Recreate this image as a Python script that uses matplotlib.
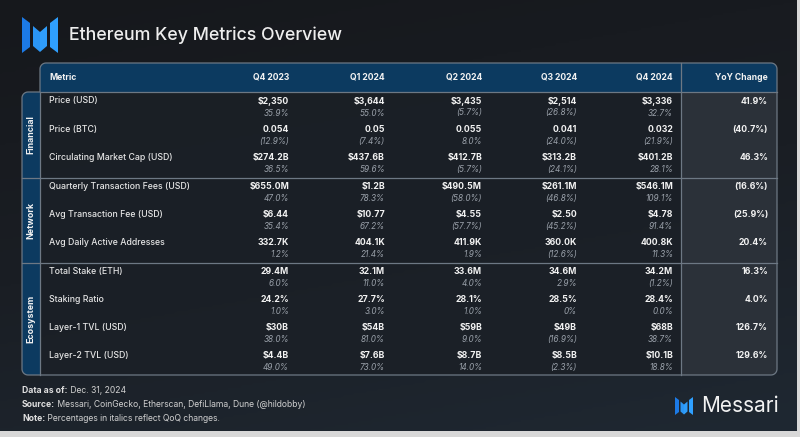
import matplotlib.pyplot as plt
import numpy as np
from matplotlib.patches import Polygon
from matplotlib.colors import LinearSegmentedColormap

plt.rcParams['font.family'] = ['Inter', 'DejaVu Sans']

quarters = ['Q4 2023', 'Q1 2024', 'Q2 2024', 'Q3 2024', 'Q4 2024']
groups = ['Financial', 'Network', 'Ecosystem']
group_sizes = [3, 3, 4]
metrics = ['Price (USD)', 'Price (BTC)', 'Circulating Market Cap (USD)',
           'Quarterly Transaction Fees (USD)', 'Avg Transaction Fee (USD)', 'Avg Daily Active Addresses',
           'Total Stake (ETH)', 'Staking Ratio', 'Layer-1 TVL (USD)', 'Layer-2 TVL (USD)']
values = [
    ['$2,350', '$3,644', '$3,435', '$2,514', '$3,336'],
    ['0.054', '0.05', '0.055', '0.041', '0.032'],
    ['$274.2B', '$437.6B', '$412.7B', '$313.2B', '$401.2B'],
    ['$655.0M', '$1.2B', '$490.5M', '$261.1M', '$546.1M'],
    ['$6.44', '$10.77', '$4.55', '$2.50', '$4.78'],
    ['332.7K', '404.1K', '411.9K', '360.0K', '400.8K'],
    ['29.4M', '32.1M', '33.6M', '34.6M', '34.2M'],
    ['24.2%', '27.7%', '28.1%', '28.5%', '28.4%'],
    ['$30B', '$54B', '$59B', '$49B', '$68B'],
    ['$4.4B', '$7.6B', '$8.7B', '$8.5B', '$10.1B'],
]
qoq = [
    ['35.9%', '55.0%', '(5.7%)', '(26.8%)', '32.7%'],
    ['(12.9%)', '(7.4%)', '8.0%', '(24.0%)', '(21.9%)'],
    ['36.5%', '59.6%', '(5.7%)', '(24.1%)', '28.1%'],
    ['47.0%', '78.3%', '(58.0%)', '(46.8%)', '109.1%'],
    ['35.4%', '67.2%', '(57.7%)', '(45.2%)', '91.4%'],
    ['1.2%', '21.4%', '1.9%', '(12.6%)', '11.3%'],
    ['6.0%', '11.0%', '4.0%', '2.9%', '(1.2%)'],
    ['1.0%', '3.0%', '1.0%', '0%', '0.0%'],
    ['38.0%', '81.0%', '9.0%', '(16.9%)', '38.7%'],
    ['49.0%', '73.0%', '14.0%', '(2.3%)', '18.8%'],
]
yoy = ['41.9%', '(40.7%)', '46.3%', '(16.6%)', '(25.9%)', '20.4%', '16.3%', '4.0%', '126.7%', '129.6%']

BLUE = '#0c3a60'
LINE = '#6d7884'
TXT = '#f2f2f2'
GREY = '#9aa1aa'


def arc(cx, cy, r, a0, a1, n=10):
    a = np.radians(np.linspace(a0, a1, n))
    return list(zip(cx + r * np.cos(a), cy - r * np.sin(a)))


def rrect(x0, y0, x1, y1, tl=0, tr=0, br=0, bl=0):
    pts = arc(x0 + tl, y0 + tl, tl, 180, 90) + arc(x1 - tr, y0 + tr, tr, 90, 0)
    pts += arc(x1 - br, y1 - br, br, 0, -90) + arc(x0 + bl, y1 - bl, bl, -90, -180)
    return pts


def logo(ax, x, y, s):
    k = s / 36.0
    shapes = [[(0, 0), (8, 6), (8, 30), (0, 36)],
              [(11, 9), (18, 15), (18, 35), (11, 29)],
              [(18, 15), (25, 9), (25, 29), (18, 35)],
              [(28, 6), (36, 0), (36, 36), (28, 30)]]
    cols = ['#1c7ae6', '#2a95f5', '#2f9dfa', '#2fa0ff']
    for sh, c in zip(shapes, cols):
        ax.add_patch(Polygon([(x + px * k, y + py * k) for px, py in sh], closed=True,
                             fc=c, ec='none', zorder=5))


fig = plt.figure(figsize=(8, 4.37), dpi=100, facecolor='#d8d8d8')
ax = fig.add_axes([0, 0, 1, 1])
ax.set_xlim(0, 800)
ax.set_ylim(437, 0)
ax.axis('off')

# background gradient
yy, xx = np.mgrid[0:1:200j, 0:1:300j]
grad = 0.75 * yy + 0.25 * xx
cmap = LinearSegmentedColormap.from_list('bg', ['#16181c', '#1a1e24', '#1f2832'])
ax.imshow(grad, extent=(0, 797, 431, 0), cmap=cmap, aspect='auto', zorder=0)

# title
logo(ax, 22, 17, 36)
ax.text(69, 35, 'Ethereum Key Metrics Overview', fontsize=12.8, color='#eeeeee',
        fontweight='medium', va='center', ha='left')

# table geometry
L, CL, R, TOP, HB, BOT = 40, 22, 777, 63, 92, 375
YX = 681
r = 6
col_x = [289, 385, 482, 577, 673]
yoy_x = 768
name_x = 49
row_y = []
bounds = [HB]
y = 101
for gi, n in enumerate(group_sizes):
    for j in range(n):
        row_y.append(y)
        y += 28.2
    bounds.append(row_y[-1] + 20.5 if gi < len(group_sizes) - 1 else BOT)
    y += 0.6

outline = (arc(L + r, TOP + r, r, 180, 90) + arc(R - r, TOP + r, r, 90, 0)
           + arc(R - r, BOT - r, r, 0, -90) + arc(CL + r, BOT - r, r, -90, -180)
           + arc(CL + r, HB + r, r, 180, 90) + [(L, HB)])
ax.add_patch(Polygon(outline, closed=True, fc='#1b2027', ec='none', alpha=0.85, zorder=1))
ax.add_patch(Polygon(rrect(YX, HB, R, BOT, br=r), closed=True, fc='#2b3139', ec='none', zorder=1.5))
ax.add_patch(Polygon(rrect(L, TOP, R, HB, tl=r, tr=r), closed=True, fc=BLUE, ec='none', zorder=2))
ax.add_patch(Polygon(rrect(CL, HB, L, BOT, tl=r, bl=r), closed=True, fc=BLUE, ec='none', zorder=2))
ax.add_patch(Polygon(outline, closed=True, fc='none', ec=LINE, lw=0.9, zorder=4))
ax.plot([L, R], [HB, HB], color=LINE, lw=0.9, zorder=4)
ax.plot([L, L], [HB, BOT], color=LINE, lw=0.9, zorder=4)
ax.plot([YX, YX], [TOP, BOT], color=LINE, lw=0.9, zorder=4)
for b in bounds[1:-1]:
    ax.plot([CL, R], [b, b], color=LINE, lw=0.9, zorder=4)

# header
hy = (TOP + HB) / 2
ax.text(name_x, hy, 'Metric', fontsize=6.2, fontweight='bold', color=TXT, va='center', ha='left', zorder=6)
for q, cx in zip(quarters, col_x):
    ax.text(cx, hy, q, fontsize=6.2, fontweight='bold', color=TXT, va='center', ha='right', zorder=6)
ax.text(yoy_x, hy, 'YoY Change', fontsize=6.2, fontweight='bold', color=TXT, va='center', ha='right', zorder=6)

# group labels
for g, b0, b1 in zip(groups, bounds[:-1], bounds[1:]):
    ax.text((CL + L) / 2, (b0 + b1) / 2, g, rotation=90, fontsize=6.4, fontweight='bold',
            color=TXT, va='center', ha='center', zorder=6)

# rows
for i, m in enumerate(metrics):
    ry = row_y[i]
    ax.text(name_x, ry, m, fontsize=6.3, color='#e6e6e6', fontweight='medium', va='center', ha='left', zorder=6)
    for j, cx in enumerate(col_x):
        ax.text(cx, ry, values[i][j], fontsize=6.3, fontweight='bold', color=TXT,
                va='center', ha='right', zorder=6)
        ax.text(cx, ry + 12, qoq[i][j], fontsize=5.9, style='italic', color=GREY,
                va='center', ha='right', zorder=6)
    ax.text(yoy_x, ry, yoy[i], fontsize=6.3, fontweight='bold', color=TXT, va='center', ha='right', zorder=6)

# footer
notes = [('Data as of:', ' Dec. 31, 2024'),
         ('Source:', ' Messari, CoinGecko, Etherscan, DefiLlama, Dune (@hildobby)'),
         ('Note:', ' Percentages in italics reflect QoQ changes.')]
for k, (lab, rest) in enumerate(notes):
    t = ax.text(22, 395 + 14 * k, lab, fontsize=6.2, fontweight='bold', color='#e0e0e0',
                va='bottom', ha='left', zorder=6)
    ax.annotate(rest, xy=(1, 0), xycoords=t, fontsize=6.2, color='#d0d0d0',
                va='bottom', ha='left', zorder=6)

logo(ax, 675, 397, 18)
ax.text(701, 406, 'Messari', fontsize=15, color='#f2f2f2', va='center', ha='left', zorder=6)

fig.savefig('out.png', dpi=100, facecolor=fig.get_facecolor())
